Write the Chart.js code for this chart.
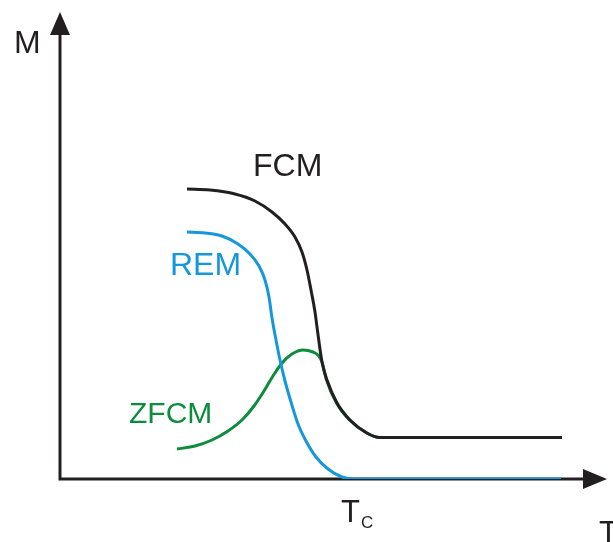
<!DOCTYPE html>
<html>
<head>
<meta charset="utf-8">
<script src="https://cdn.jsdelivr.net/npm/chart.js@4/dist/chart.umd.min.js"></script>
<style>
  html, body { margin: 0; padding: 0; background: #fff; }
  canvas { display: block; }
</style>
</head>
<body>
<canvas id="chart" width="613" height="542"></canvas>
<script>
// temperature (x) and magnetization (y), arbitrary units
const fcmT  = [127, 150, 175, 195, 212, 225, 235, 242, 247, 251, 255, 257, 262, 267, 277, 290, 307, 320, 360, 502];
const fcmM  = [290, 289, 285, 278, 267, 255, 242, 227, 209, 189, 167, 152, 117, 99, 76, 59, 46, 41.5, 41.5, 41.5];

const remT  = [127, 145, 162, 178, 190, 199, 205, 209, 212, 216, 220, 225, 231, 238, 246, 256, 268, 282, 295, 501];
const remM  = [247, 246, 243, 235, 225, 213, 199, 182, 161, 139, 119, 98, 77, 55, 38, 22, 10, 2, 0, 0];

const zfcmT = [117, 135, 152, 168, 182, 194, 204, 213, 222, 232, 243, 253, 258, 262, 266.5, 276.5, 289.5, 306.5, 319.5, 360, 502];
const zfcmM = [30, 33, 39, 48, 59, 73, 88, 103, 116, 125, 129, 127, 124, 117, 99, 76, 59, 46, 41.5, 41.5, 41.5];

const TC = 282; // Curie temperature, where REM reaches zero

const BLACK = '#231f20';
const BLUE = '#1597db';
const GREEN = '#0d8c3e';

const toPoints = (xs, ys) => xs.map((x, i) => ({ x: x, y: ys[i] }));

// axes with arrow heads + text labels
const sketchPlugin = {
  id: 'sketch',
  beforeDatasetsDraw(chart) {
    const ctx = chart.ctx;
    const xs = chart.scales.x, ys = chart.scales.y;
    const x0 = xs.getPixelForValue(0), y0 = ys.getPixelForValue(0);
    const xEnd = xs.getPixelForValue(xs.max), yEnd = ys.getPixelForValue(ys.max);
    ctx.save();
    ctx.strokeStyle = BLACK;
    ctx.fillStyle = BLACK;
    ctx.lineWidth = 3;
    ctx.beginPath();
    ctx.moveTo(x0, y0 + 1.5);
    ctx.lineTo(x0, yEnd + 20);
    ctx.moveTo(x0 - 1.5, y0);
    ctx.lineTo(xEnd - 20, y0);
    ctx.stroke();
    // arrow heads
    ctx.beginPath();
    ctx.moveTo(x0, yEnd);
    ctx.lineTo(x0 - 10, yEnd + 23);
    ctx.lineTo(x0 + 10, yEnd + 23);
    ctx.closePath();
    ctx.fill();
    ctx.beginPath();
    ctx.moveTo(xEnd, y0);
    ctx.lineTo(xEnd - 24, y0 - 10);
    ctx.lineTo(xEnd - 24, y0 + 10);
    ctx.closePath();
    ctx.fill();
    ctx.restore();
  },
  afterDatasetsDraw(chart) {
    const ctx = chart.ctx;
    const xs = chart.scales.x, ys = chart.scales.y;
    const px = v => xs.getPixelForValue(v), py = v => ys.getPixelForValue(v);
    ctx.save();
    ctx.textBaseline = 'alphabetic';
    ctx.textAlign = 'left';
    const font = s => s + 'px "Liberation Sans", Arial, sans-serif';
    ctx.font = font(32);
    ctx.fillStyle = BLACK;
    ctx.fillText('M', 14, 53);
    ctx.fillText('FCM', px(193), py(303));
    ctx.fillStyle = BLUE;
    ctx.fillText('REM', px(110), py(204));
    ctx.fillStyle = GREEN;
    ctx.font = font(30);
    ctx.fillText('ZFCM', px(69), py(56));
    ctx.fillStyle = BLACK;
    ctx.font = font(31);
    ctx.fillText('T', px(TC - 1), py(-43));
    ctx.fillText('T', 599, 543);
    ctx.font = font(17);
    ctx.fillText('C', px(TC + 19), py(-49));
    ctx.restore();
  }
};

const lineStyle = color => ({
  borderColor: color,
  borderWidth: 3,
  pointRadius: 0,
  fill: false,
  cubicInterpolationMode: 'monotone',
  borderCapStyle: 'butt'
});

new Chart(document.getElementById('chart'), {
  type: 'line',
  data: {
    datasets: [
      { label: 'FCM', data: toPoints(fcmT, fcmM), ...lineStyle(BLACK) },
      { label: 'REM', data: toPoints(remT, remM), ...lineStyle(BLUE) },
      { label: 'ZFCM', data: toPoints(zfcmT, zfcmM), ...lineStyle(GREEN) }
    ]
  },
  options: {
    responsive: false,
    animation: false,
    devicePixelRatio: 1,
    layout: { padding: { left: 60, right: 6, top: 12, bottom: 63 } },
    scales: {
      x: { type: 'linear', min: 0, max: 547, display: false },
      y: { type: 'linear', min: 0, max: 467, display: false }
    },
    plugins: { legend: { display: false }, tooltip: { enabled: false } }
  },
  plugins: [sketchPlugin]
});
</script>
</body>
</html>
